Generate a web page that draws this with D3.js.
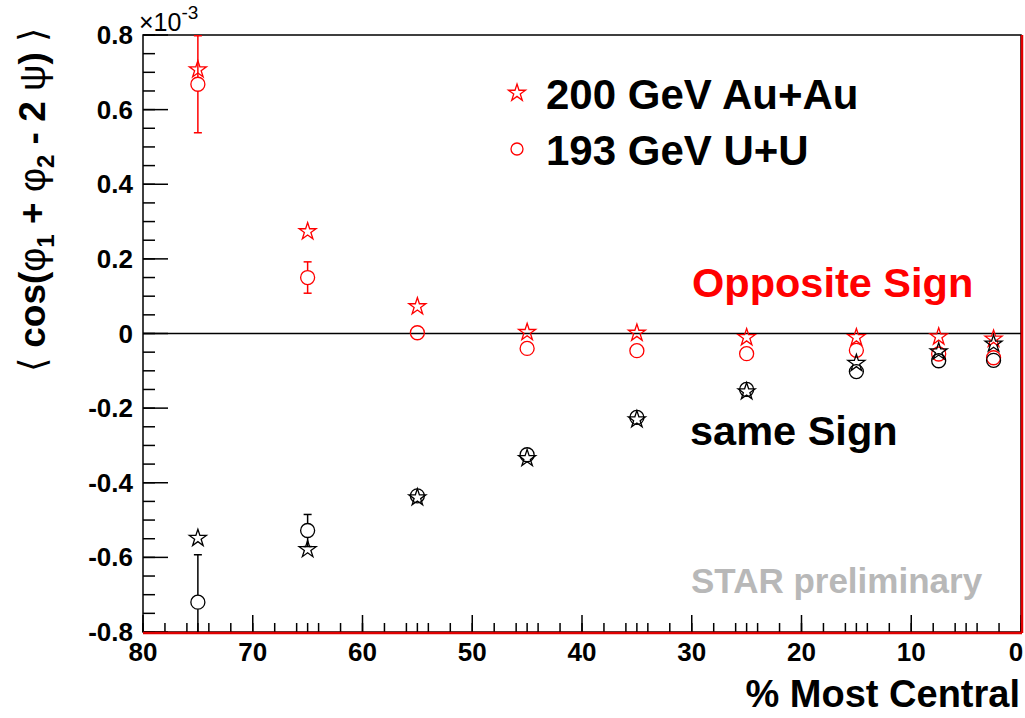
<!DOCTYPE html>
<html><head><meta charset="utf-8">
<script src="https://cdn.jsdelivr.net/npm/d3@7"></script>
<style>body{margin:0;background:#fff}svg{display:block}text{font-family:"Liberation Sans",Arial,sans-serif}</style>
</head><body>
<svg id="c" width="1025" height="718"></svg>
<script>
const centrality = [75, 65, 55, 45, 35, 25, 15, 7.5, 2.5];
const auauOS = [0.710, 0.276, 0.075, 0.006, 0.004, -0.008, -0.008, -0.006, -0.012];
const uuOS   = [0.668, 0.150, 0.002, -0.040, -0.046, -0.054, -0.045, -0.055, -0.065];
const auauSS = [-0.546, -0.576, -0.437, -0.332, -0.228, -0.153, -0.077, -0.046, -0.025];
const uuSS   = [-0.720, -0.528, -0.435, -0.325, -0.225, -0.150, -0.102, -0.073, -0.072];
const uuOSerr = [0.130, 0.042, 0.006, 0.005, 0.004, 0.004, 0.004, 0.004, 0.004];
const uuSSerr = [0.127, 0.043, 0.006, 0.005, 0.004, 0.004, 0.004, 0.004, 0.004];
const auauErr = [0.010, 0.006, 0.004, 0.003, 0.003, 0.003, 0.003, 0.003, 0.003];
const xMajorTicks = [80, 70, 60, 50, 40, 30, 20, 10, 0];
const yMajorTicks = [-0.8, -0.6, -0.4, -0.2, 0, 0.2, 0.4, 0.6, 0.8];
const yTickLabels = ["-0.8", "-0.6", "-0.4", "-0.2", "0", "0.2", "0.4", "0.6", "0.8"];
const legendLabels = ["200 GeV Au+Au", "193 GeV U+U"];

const svg = d3.select("#c");
const L = 143, R = 1021, T = 35, B = 632;
const x = d3.scaleLinear().domain([80, 0]).range([L, R]);
const y = d3.scaleLinear().domain([-0.8, 0.8]).range([B, T]);

// frame
svg.append("rect").attr("x", L).attr("y", T).attr("width", R - L).attr("height", B - T)
  .attr("fill", "none").attr("stroke", "#000").attr("stroke-width", 1.5);

// zero line
svg.append("line").attr("x1", L).attr("x2", R).attr("y1", y(0)).attr("y2", y(0))
  .attr("stroke", "#000").attr("stroke-width", 1.5);

// y ticks
const yMinor = d3.range(-0.8, 0.8001, 0.05);
svg.append("g").selectAll("line").data(yMinor).join("line")
  .attr("x1", L).attr("x2", L + 12).attr("y1", d => y(d)).attr("y2", d => y(d))
  .attr("stroke", "#000").attr("stroke-width", 1.5);
svg.append("g").selectAll("line").data(yMajorTicks).join("line")
  .attr("x1", L).attr("x2", L + 25).attr("y1", d => y(d)).attr("y2", d => y(d))
  .attr("stroke", "#000").attr("stroke-width", 1.5);
svg.append("g").selectAll("text").data(yMajorTicks).join("text")
  .attr("x", 133).attr("y", d => y(d) + 9).attr("text-anchor", "end")
  .attr("font-size", 26).attr("font-weight", "bold").text((d, i) => yTickLabels[i]);

// x ticks
const xMinor = d3.range(0, 80.01, 2).concat(d3.range(5, 80, 10));
svg.append("g").selectAll("line").data(xMinor).join("line")
  .attr("x1", d => x(d)).attr("x2", d => x(d)).attr("y1", B).attr("y2", B - 9)
  .attr("stroke", "#000").attr("stroke-width", 1.5);
svg.append("g").selectAll("line").data(xMajorTicks).join("line")
  .attr("x1", d => x(d)).attr("x2", d => x(d)).attr("y1", B).attr("y2", B - 17)
  .attr("stroke", "#000").attr("stroke-width", 1.5);
svg.append("g").selectAll("text").data(xMajorTicks).join("text")
  .attr("x", d => Math.min(x(d), 1016)).attr("y", 661).attr("text-anchor", "middle")
  .attr("font-size", 26).attr("font-weight", "bold").text(d => d);

// red bottom & right edges
svg.append("line").attr("x1", L).attr("x2", R + 1).attr("y1", B + 1).attr("y2", B + 1)
  .attr("stroke", "#e00000").attr("stroke-width", 2.5);
svg.append("line").attr("x1", R + 1).attr("x2", R + 1).attr("y1", T).attr("y2", B + 1)
  .attr("stroke", "#e00000").attr("stroke-width", 2.5);

// data
const star = d3.symbol().type(d3.symbolStar).size(90);
const clip = v => Math.max(-0.8, Math.min(0.8, v));
function errBars(vals, errs, color) {
  const g = svg.append("g").attr("stroke", color).attr("stroke-width", 1.5);
  vals.forEach((v, i) => {
    const e = errs[i], cx = x(centrality[i]);
    const top = y(clip(v + e)), bot = y(clip(v - e)), c = y(v);
    if (c - top > 8) {
      g.append("line").attr("x1", cx).attr("x2", cx).attr("y1", top).attr("y2", c - 7);
      if (v + e <= 0.8) g.append("line").attr("x1", cx - 4).attr("x2", cx + 4).attr("y1", top).attr("y2", top);
    }
    if (bot - c > 8) {
      g.append("line").attr("x1", cx).attr("x2", cx).attr("y1", c + 7).attr("y2", bot);
      if (v - e >= -0.8) g.append("line").attr("x1", cx - 4).attr("x2", cx + 4).attr("y1", bot).attr("y2", bot);
    }
  });
}
function stars(vals, color) {
  svg.append("g").selectAll("path").data(vals).join("path")
    .attr("d", star).attr("transform", (d, i) => `translate(${x(centrality[i])},${y(d) + 1})`)
    .attr("fill", "none").attr("stroke", color).attr("stroke-width", 1.3);
}
function circles(vals, color) {
  svg.append("g").selectAll("circle").data(vals).join("circle")
    .attr("cx", (d, i) => x(centrality[i])).attr("cy", d => y(d)).attr("r", 7)
    .attr("fill", "none").attr("stroke", color).attr("stroke-width", 1.3);
}
errBars(auauOS, auauErr, "#ff0000");
errBars(uuOS, uuOSerr, "#ff0000");
stars(auauOS, "#ff0000");
circles(uuOS, "#ff0000");
errBars(auauSS, auauErr, "#000");
errBars(uuSS, uuSSerr, "#000");
stars(auauSS, "#000");
circles(uuSS, "#000");

// legend
svg.append("path").attr("d", star).attr("transform", "translate(517,93)")
  .attr("fill", "none").attr("stroke", "#ff0000").attr("stroke-width", 1.3);
svg.append("circle").attr("cx", 517).attr("cy", 149).attr("r", 6)
  .attr("fill", "none").attr("stroke", "#ff0000").attr("stroke-width", 1.3);
svg.append("text").attr("x", 546).attr("y", 109).attr("font-size", 42).attr("font-weight", "bold").text(legendLabels[0]);
svg.append("text").attr("x", 546).attr("y", 165).attr("font-size", 42).attr("font-weight", "bold").text(legendLabels[1]);

// annotations
svg.append("text").attr("x", 692).attr("y", 297).attr("font-size", 41.5).attr("font-weight", "bold")
  .attr("fill", "#ff0000").text("Opposite Sign");
svg.append("text").attr("x", 690).attr("y", 445).attr("font-size", 41.5).attr("font-weight", "bold")
  .attr("fill", "#000").text("same Sign");
svg.append("text").attr("x", 691).attr("y", 593).attr("font-size", 35).attr("font-weight", "bold")
  .attr("fill", "#b8b8b8").text("STAR preliminary");

// exponent
const ex = svg.append("text").attr("x", 139).attr("y", 31).attr("font-size", 25);
ex.append("tspan").text("×10");
ex.append("tspan").attr("font-size", 19).attr("dy", -12).text("-3");

// x title
svg.append("text").attr("x", 1020).attr("y", 707).attr("text-anchor", "end")
  .attr("font-size", 38).attr("font-weight", "bold").text("% Most Central");

// y title
const yt = svg.append("text").attr("transform", "translate(45,200) rotate(-90)")
  .attr("text-anchor", "middle").attr("font-size", 37).attr("font-weight", "bold");
yt.append("tspan").attr("font-weight", "normal").text("⟨ ");
yt.append("tspan").text("cos(");
yt.append("tspan").attr("font-weight", "normal").text("φ");
yt.append("tspan").attr("font-size", 24).attr("dy", 9).text("1");
yt.append("tspan").attr("dy", -9).text(" + ");
yt.append("tspan").attr("font-weight", "normal").text("φ");
yt.append("tspan").attr("font-size", 24).attr("dy", 9).text("2");
yt.append("tspan").attr("dy", -9).text(" - 2 ");
yt.append("tspan").attr("font-weight", "normal").text("ψ");
yt.append("tspan").text(") ");
yt.append("tspan").attr("font-weight", "normal").text("⟩");
</script>
</body></html>
